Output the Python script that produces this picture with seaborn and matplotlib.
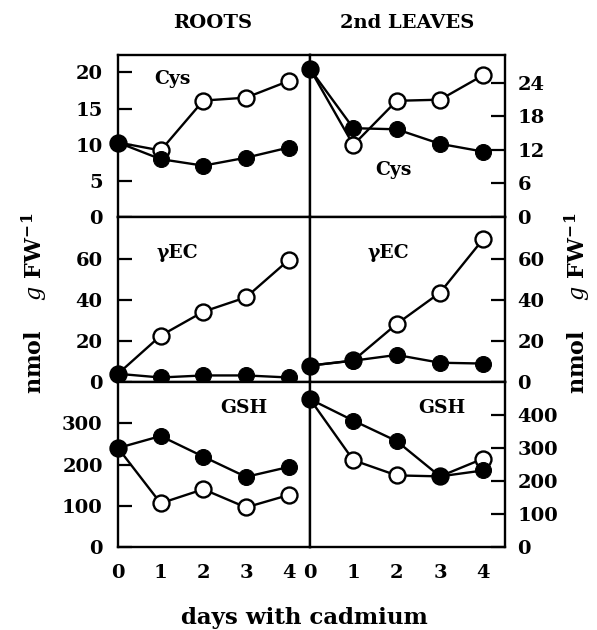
import matplotlib
matplotlib.use("Agg")
import matplotlib.pyplot as plt
import seaborn as sns
import pandas as pd

sns.set_theme(style="white")
plt.rcParams['font.family'] = ['DejaVu Serif']
plt.rcParams['mathtext.fontset'] = 'dejavuserif'

days = [0, 1, 2, 3, 4]

# Roots
roots_cys_open = [10.3, 9.2, 16.1, 16.5, 18.8]
roots_cys_fill = [10.3, 8.0, 7.1, 8.2, 9.6]
roots_gec_open = [4.0, 22.6, 34.3, 41.3, 59.5]
roots_gec_fill = [4.0, 2.2, 3.2, 3.2, 2.2]
roots_gsh_open = [240, 106, 140, 96, 126]
roots_gsh_fill = [240, 269, 219, 170, 194]

# 2nd leaves
leaves_cys_open = [26.5, 12.9, 20.8, 21.0, 25.4]
leaves_cys_fill = [26.5, 15.9, 15.7, 13.1, 11.7]
leaves_gec_open = [8.0, 10.5, 28.3, 43.6, 69.8]
leaves_gec_fill = [8.0, 10.4, 13.2, 9.4, 9.0]
leaves_gsh_open = [448, 263, 217, 214, 268]
leaves_gsh_fill = [448, 383, 321, 214, 232]

col_titles = ["ROOTS", "2nd LEAVES"]
row_names = ["Cys", "\u03b3EC", "GSH"]

left_ylims = [(0, 22.4), (0, 80.5), (0, 400)]
right_ylims = [(0, 29), (0, 80.5), (0, 500)]
left_yticks = [[0, 5, 10, 15, 20], [0, 20, 40, 60], [0, 100, 200, 300]]
right_yticks = [[0, 6, 12, 18, 24], [0, 20, 40, 60], [0, 100, 200, 300, 400]]

data = [
    [(roots_cys_open, roots_cys_fill), (leaves_cys_open, leaves_cys_fill)],
    [(roots_gec_open, roots_gec_fill), (leaves_gec_open, leaves_gec_fill)],
    [(roots_gsh_open, roots_gsh_fill), (leaves_gsh_open, leaves_gsh_fill)],
]

label_pos = [
    [(0.286, 0.852), (0.426, 0.29)],
    [(0.31, 0.78), (0.40, 0.78)],
    [(0.656, 0.84), (0.677, 0.84)],
]

W, H = 597, 630
fig = plt.figure(figsize=(W / 100, H / 100), dpi=100)

col_x = [(118, 310), (310, 505)]
row_y = [(55, 217), (217, 382), (382, 547)]

ms = 11.5
lw = 1.7
tick_fs = 14

for r in range(3):
    for c in range(2):
        x0, x1 = col_x[c]
        y0, y1 = row_y[r]
        ax = fig.add_axes([x0 / W, 1 - y1 / H, (x1 - x0) / W, (y1 - y0) / H])
        o, f = data[r][c]
        df = pd.DataFrame({"day": days, "open": o, "fill": f})
        sns.lineplot(data=df, x="day", y="open", ax=ax, color="black", lw=lw,
                     marker="o", markersize=ms, markerfacecolor="white",
                     markeredgecolor="black", markeredgewidth=1.7, zorder=3,
                     clip_on=False)
        sns.lineplot(data=df, x="day", y="fill", ax=ax, color="black", lw=lw,
                     marker="o", markersize=ms, markerfacecolor="black",
                     markeredgecolor="black", zorder=4, clip_on=False)
        ax.set_xlim(0, 4.5)
        if c == 0:
            ax.set_ylim(*left_ylims[r])
            ax.set_yticks(left_yticks[r])
            ax.yaxis.tick_left()
            ypad = 11
        else:
            ax.set_ylim(*right_ylims[r])
            ax.set_yticks(right_yticks[r])
            ax.yaxis.tick_right()
            ypad = 9
        ax.set_xticks(days)
        ax.tick_params(axis="both", direction="in", length=10, width=1.6,
                       labelsize=tick_fs, colors="black")
        ax.tick_params(axis="x", pad=12)
        ax.tick_params(axis="y", pad=ypad)
        for lab in ax.get_xticklabels() + ax.get_yticklabels():
            lab.set_fontweight("bold")
        if r < 2:
            ax.set_xticklabels([])
        ax.set_xlabel("")
        ax.set_ylabel("")
        for s in ax.spines.values():
            s.set_visible(True)
            s.set_color("black")
            s.set_linewidth(1.7)
        ax.set_facecolor("white")
        ax.grid(False)
        tx, ty = label_pos[r][c]
        ax.text(tx, ty, row_names[r], transform=ax.transAxes, ha="center",
                va="center", fontsize=13.5, fontweight="bold", color="black")

fig.text(213 / W, 1 - 23 / H, col_titles[0], ha="center", va="center",
         fontsize=14, fontweight="bold", color="black")
fig.text(407 / W, 1 - 23 / H, col_titles[1], ha="center", va="center",
         fontsize=14, fontweight="bold", color="black")

ylab = "nmol    $\\mathbf{\\mathit{g}}$ FW$^{\\mathbf{-1}}$"
fig.text(35 / W, 1 - 303 / H, ylab, rotation=90, ha="center", va="center",
         fontsize=16, fontweight="bold", color="black")
fig.text(578 / W, 1 - 303 / H, ylab, rotation=90, ha="center", va="center",
         fontsize=16, fontweight="bold", color="black")
fig.text(304 / W, 1 - 618 / H, "days with cadmium", ha="center", va="center",
         fontsize=16.5, fontweight="bold", color="black")

fig.savefig("out.png", dpi=100, facecolor="white")
